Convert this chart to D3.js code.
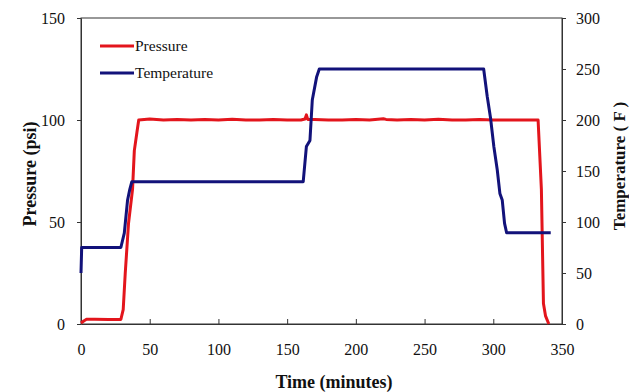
<!DOCTYPE html>
<html><head><meta charset="utf-8">
<script src="https://cdn.jsdelivr.net/npm/d3@7"></script>
<style>body{margin:0;background:#fff}svg{display:block}text{font-family:"Liberation Serif","Times New Roman",serif !important;fill:#111}</style>
</head><body><svg id="c" width="629" height="392"></svg>
<script>
const xTicks = [0,50,100,150,200,250,300,350];
const leftTicks = [0,50,100,150];
const rightTicks = [0,50,100,150,200,250,300];
const seriesNames = ["Pressure","Temperature"];
const pressureTime = [0,2,4,10,20,29,30.7,32.2,34.6,37.5,38.8,40.7,42,50,60,70,80,90,100,110,120,130,140,150,160,163,164,165,170,180,190,200,210,220,222,230,240,250,260,270,280,290,300,310,320,330,332.6,335,336.5,338,340.4];
const pressure = [0.5,1.5,2.3,2.3,2.2,2.2,7,25,49.5,66,85,94,100,100.5,100,100.3,100,100.2,100,100.4,100,100,100.2,100,100,100.5,102.5,100.3,100.2,100,100,100.2,100,100.6,100.3,100,100.2,100,100.4,100,100,100.2,100,100,100,100,100,66,10,4,0];
const tempTime = [0,0.5,5,29,31.5,33.9,35.5,37,50,100,150,161.7,164,166.6,168.3,171.5,173.4,200,250,293,295.6,298,300.4,302.9,304.8,306.5,308.2,309.7,320,341.8];
const temperature = [50,75,75,75,89,121.6,132,139.5,139.5,139.5,139.5,139.5,174,180,219.6,242.5,250,250,250,250,223,202,174,151,128,121.6,98.7,89.5,89.5,89.5];

const svg = d3.select("#c");
const L=81, R=562, T=18, B=324;
const x = d3.scaleLinear().domain([0,350]).range([L,R]);
const yL = d3.scaleLinear().domain([0,150]).range([B,T]);
const yR = d3.scaleLinear().domain([0,300]).range([B,T]);
const axisColor="#333";

svg.append("rect").attr("x",L).attr("y",T).attr("width",R-L).attr("height",B-T)
  .attr("fill","none").attr("stroke",axisColor).attr("stroke-width",1);

const gx = svg.append("g").attr("transform",`translate(0,${B})`)
  .call(d3.axisBottom(x).tickValues(xTicks).tickSizeInner(-5).tickSizeOuter(0).tickPadding(20));
const gl = svg.append("g").attr("transform",`translate(${L},0)`)
  .call(d3.axisLeft(yL).tickValues(leftTicks).tickSizeInner(4).tickSizeOuter(0).tickPadding(12));
const gr = svg.append("g").attr("transform",`translate(${R},0)`)
  .call(d3.axisRight(yR).tickValues(rightTicks).tickSizeInner(4).tickSizeOuter(0).tickPadding(10));
[gx,gl,gr].forEach(g=>{
  g.attr("font-family",null);
  g.select(".domain").attr("stroke",axisColor);
  g.selectAll(".tick line").attr("stroke",axisColor);
  g.selectAll(".tick text").attr("font-size",16).attr("fill","#111");
});

const lineP = d3.line().x((d,i)=>x(pressureTime[i])).y(d=>yL(d));
const lineT = d3.line().x((d,i)=>x(tempTime[i])).y(d=>yR(d));
svg.append("path").datum(pressure).attr("d",lineP).attr("fill","none").attr("stroke","#e3151c").attr("stroke-width",3).attr("stroke-linejoin","round");
svg.append("path").datum(temperature).attr("d",lineT).attr("fill","none").attr("stroke","#12127a").attr("stroke-width",3).attr("stroke-linejoin","round");

const colors=["#e3151c","#12127a"];
seriesNames.forEach((n,i)=>{
  const y0 = 46 + i*27;
  svg.append("line").attr("x1",100).attr("x2",134).attr("y1",y0).attr("y2",y0).attr("stroke",colors[i]).attr("stroke-width",3);
  svg.append("text").attr("x",135).attr("y",y0+5).attr("font-size",15.5).text(n);
});

svg.append("text").attr("x",334).attr("y",388).attr("text-anchor","middle").attr("font-weight","bold").attr("font-size",18).text("Time (minutes)");
svg.append("text").attr("transform","translate(36,174) rotate(-90)").attr("text-anchor","middle").attr("font-weight","bold").attr("font-size",18).text("Pressure (psi)");
svg.append("text").attr("transform","translate(625,166) rotate(-90)").attr("text-anchor","middle").attr("font-weight","bold").attr("font-size",17).text("Temperature ( F )");
</script></body></html>
